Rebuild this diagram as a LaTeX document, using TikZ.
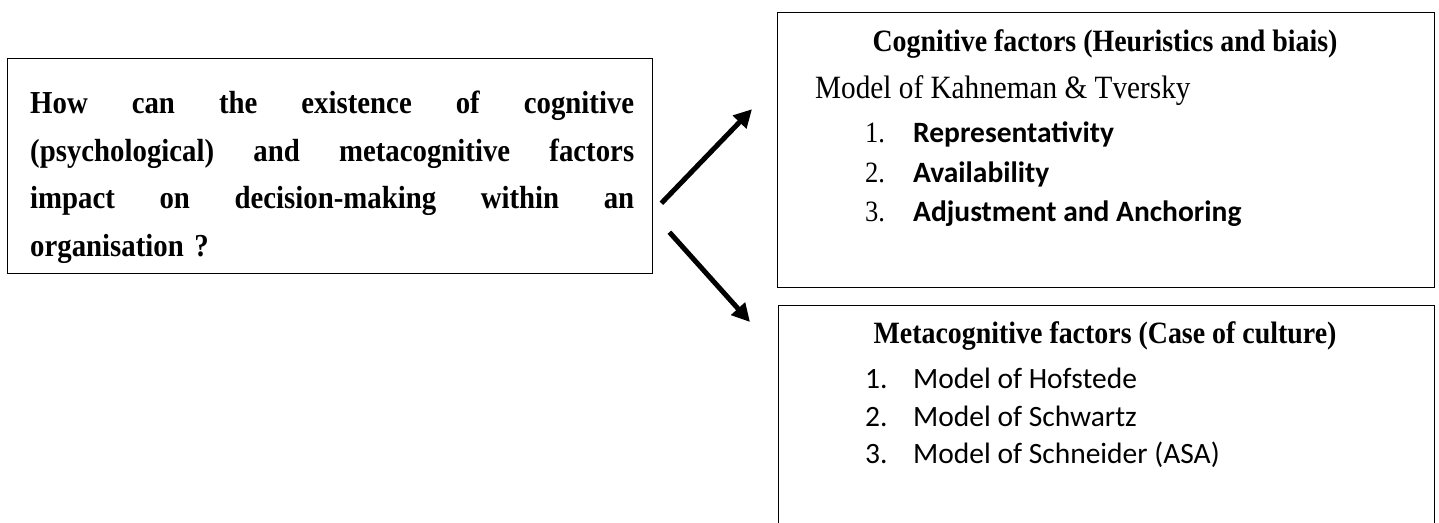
\documentclass[tikz,border=0pt]{standalone}
\usepackage{fontspec}
\setmainfont{Liberation Serif}[FakeStretch=0.9]
\newfontfamily\calibri{Carlito}
\usetikzlibrary{arrows.meta,positioning}
% one justified line of the question
\newcommand\qline[1]{\makebox[604pt][s]{\spaceskip=0pt\xspaceskip=0pt\relax #1}}

\begin{document}
\begin{tikzpicture}[x=1pt,y=-1pt,
  frame/.style={draw,line width=1.4pt,inner sep=0pt,anchor=north west},
  question/.style={anchor=north west,inner sep=0pt,text width=604pt,align=left,
                   font=\fontsize{32}{47.5}\selectfont\bfseries},
  boxtitle/.style={font=\fontsize{31}{36}\selectfont\bfseries},
  model/.style={anchor=west,inner sep=0pt,font=\fontsize{32.5}{36}\selectfont},
  item/.style={anchor=west,inner sep=0pt,font=\fontsize{29.5}{34}\calibri},
  arr/.style={line width=5pt,-{Triangle[length=18pt,width=18pt]}},
]
\useasboundingbox (0,0) rectangle (1439,522);
\clip (0,0) rectangle (1439,522);
% question on the left
\node[frame,minimum width=645pt,minimum height=215pt] (qbox) at (7,58) {};
\node[question] (qtext) at (30,91) {%
  \qline{How can the existence of cognitive}\\
  \qline{(psychological) and metacognitive factors}\\
  \qline{impact on decision-making within an}\\
  organisation ?};
% cognitive factors
\node[frame,minimum width=657pt,minimum height=275pt] (cog) at (777,12) {};
\node[boxtitle] (cogtitle) at (1105,44) {Cognitive factors (Heuristics and biais)};
\node[model] (kt) at (815,91) {Model of Kahneman \& Tversky};
\node[item] (rep) at (865,134) {\makebox[48pt][l]{\rmfamily 1.}\textbf{Representativity}};
\node[item] (avail) at (865,174) {\makebox[48pt][l]{\rmfamily 2.}\textbf{Availability}};
\node[item] (adj) at (865,214) {\makebox[48pt][l]{\rmfamily 3.}\textbf{Adjustment and Anchoring}};
% metacognitive factors
\node[frame,minimum width=656pt,minimum height=240pt] (meta) at (778,305) {};
\node[boxtitle] (metatitle) at (1105,336) {Metacognitive factors (Case of culture)};
\node[item] (hof) at (865,378) {\makebox[48pt][l]{1.}Model of Hofstede};
\node[item] (sch) at (865,416) {\makebox[48pt][l]{2.}Model of Schwartz};
\node[item] (schn) at (865,455) {\makebox[48pt][l]{3.}Model of Schneider (ASA)};
% arrows
\draw[arr] ([xshift=8pt,yshift=-37pt]qbox.east) -- ([xshift=-25pt,yshift=41pt]cog.west);
\draw[arr] ([xshift=16pt,yshift=-66pt]qbox.east) -- ([xshift=-28pt,yshift=-17pt]meta.north west);
\end{tikzpicture}
\end{document}
